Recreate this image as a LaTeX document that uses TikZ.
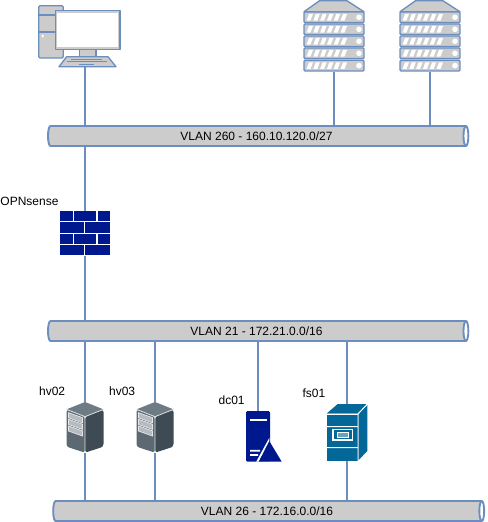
\documentclass[tikz,border=0pt]{standalone}
\usepackage{fontspec}
\setmainfont{Liberation Sans}
\usetikzlibrary{shapes.geometric, positioning}
\definecolor{linkblue}{RGB}{108,142,191}
\definecolor{pipegray}{RGB}{204,204,204}
\definecolor{navyicon}{RGB}{0,24,141}
\definecolor{tealicon}{RGB}{3,104,151}
\definecolor{hvleft}{RGB}{92,105,115}
\definecolor{hvright}{RGB}{62,75,85}
\definecolor{hvtop}{RGB}{110,122,132}
\tikzset{
  pipe/.style={
    cylinder, shape border rotate=0, shape aspect=0.55, draw=linkblue,
    line width=1.4pt, cylinder uses custom fill, cylinder body fill=pipegray,
    cylinder end fill=white, minimum height=315.25pt, minimum width=15pt,
    inner sep=0pt, font=\fontsize{9pt}{10pt}\selectfont
  },
  hold/.style={inner sep=0pt, minimum width=#1},
  link/.style={draw=linkblue, line width=1.4pt},
  lbl/.style={inner sep=0pt, font=\fontsize{9pt}{10pt}\selectfont,
    above left=4.2pt and 0.6pt of #1},
  % icons, drawn around the centre of their holder
  pcicon/.pic={
    \begin{scope}[draw=linkblue, line width=1pt, fill=pipegray, line join=round]
      \filldraw[rounded corners=1pt] (-46.3,-30.5) rectangle (-21.7,21.8);
      \draw (-46.3,-21.2) -- (-21.7,-21.2) (-46.3,-4.2) -- (-21.7,-4.2);
      \fill[white] (-42.3,-0.2) circle (1.4);
      \filldraw (-5.7,13) rectangle (11,21);
      \filldraw (-29.7,-25.5) rectangle (35,13);
      \fill[white] (-27.7,-23.5) rectangle (33,11);
      \filldraw (-18.3,20.5) -- (23,20.5) -- (31,30.5) -- (-26,30.5) -- cycle;
      \draw[line width=0.7pt] (-14,23.2) -- (17,23.2) (-18,25.7) -- (22,25.7)
        (-6,28.2) -- (9,28.2);
    \end{scope}
  },
  rackicon/.pic={
    \filldraw[draw=linkblue, line width=1pt, fill=pipegray, line join=round]
      (-30,-24.5) -- (-14.5,-35.5) -- (13,-35.5) -- (30,-24.5) -- cycle;
    \foreach \u in {-24.3,-12.3,-0.3,11.7,24} {
      \filldraw[draw=linkblue, line width=1pt, fill=pipegray, rounded corners=0.8pt]
        (-30,\u) rectangle (30,\u+10.7);
      \foreach \s in {0,...,5}
        \fill[white] (-25+6.8*\s,\u+2) -- (-21+6.8*\s,\u+2)
          -- (-23.5+6.8*\s,\u+8.7) -- (-27.5+6.8*\s,\u+8.7) -- cycle;
      \fill[white] (25,\u+5.35) circle (2.8);
    }
  },
  wallicon/.pic={
    \foreach \r in {-22,0.2} {
      \fill[navyicon] (-25.2,\r) rectangle (-12.5,\r+10);
      \fill[navyicon] (-11.2,\r) rectangle (11,\r+10);
      \fill[navyicon] (12.5,\r) rectangle (25.2,\r+10);
      \fill[navyicon] (-25.2,\r+11) rectangle (-1.2,\r+21.7);
      \fill[navyicon] (0.2,\r+11) rectangle (25.2,\r+21.7);
    }
  },
  hvicon/.pic={
    \fill[hvtop] (0,-25.35) -- (18.5,-18) -- (0,-10.7) -- (-18.5,-18) -- cycle;
    \fill[hvleft, rounded corners=2pt] (-18.5,-18) -- (0,-10.7) -- (0,25.35) -- (-18.5,19.3) -- cycle;
    \fill[hvright, rounded corners=2pt] (18.5,-18) -- (0,-10.7) -- (0,25.35) -- (18.5,19.3) -- cycle;
    \draw[white!80!hvleft, line width=0.6pt] (-18.5,-18) -- (0,-10.7) -- (18.5,-18) (0,-10.7) -- (0,25.35);
    \foreach \d in {0,1,2}
      \filldraw[draw=white!85!hvleft, fill=white!55!hvleft, line width=0.5pt]
        (-16.5,-14.7+6.6*\d) -- (-2.5,-9.7+6.6*\d) -- (-2.5,-4.5+6.6*\d) -- (-16.5,-9.5+6.6*\d) -- cycle;
  },
  dcicon/.pic={
    \fill[navyicon, rounded corners=1pt] (-12,-25.35) rectangle (12,25.35);
    \fill[white] (-8,-17.2) rectangle (8.5,-15.4);
    \fill[white] (-8,13.5) rectangle (2,15.2) (-8,17.8) rectangle (0,19.5);
    \fill[white] (11.3,1.5) -- (-1.8,25.35) -- (12,25.35) -- cycle;
    \fill[navyicon] (11.3,4.65) -- (0.7,25.35) -- (23.7,25.35) -- cycle;
  },
  fsicon/.pic={
    \fill[tealicon] (-20.35,-18.9) -- (-9.35,-28.5) -- (20.35,-28.5) -- (10.65,-18.9) -- cycle;
    \fill[tealicon] (-20.35,-18.2) rectangle (10.65,28.5);
    \fill[tealicon] (11.35,-18.2) -- (20.35,-27.6) -- (20.35,18.5) -- (11.35,27.8) -- cycle;
    \draw[white, line width=0.7pt] (-20.35,-18.2) -- (10.65,-18.2) -- (20.35,-28.5)
      (-20.35,-5.8) -- (10.65,-5.8) (-20.35,15.2) -- (10.65,15.2) (11,-18.2) -- (11,28.5);
    \filldraw[draw=white, fill=tealicon, line width=1pt] (-14,-3.2) rectangle (5.3,7.5);
    \filldraw[draw=white, fill=tealicon!60!white, line width=0.5pt] (-10,-0.5) rectangle (1.3,4.8);
  }
}
\begin{document}
\begin{tikzpicture}[x=0.75pt, y=-0.75pt, node distance=0pt]
  \useasboundingbox (0,0) rectangle (487,522);

  \node[pipe] (vlan260) at (256.5,136) {VLAN 260 - 160.10.120.0/27};
  \node[pipe] (vlan21)  at (256.5,331) {VLAN 21 - 172.21.0.0/16};
  \node[pipe, minimum height=323.25pt] (vlan26) at (267,511) {VLAN 26 - 172.16.0.0/16};

  \node[hold=52pt,   minimum height=45.75pt] (pc)    at (85,36.2)    {};
  \node[hold=45.3pt, minimum height=53.25pt] (srv1)  at (334,36.25)  {};
  \node[hold=45.3pt, minimum height=53.25pt] (srv2)  at (430,36.25)  {};
  \node[hold=37.8pt, minimum height=33pt]    (fw)    at (85,233.3)   {};
  \node[hold=27.75pt,minimum height=38pt]    (hv02)  at (85,427.35)  {};
  \node[hold=27.75pt,minimum height=38pt]    (hv03)  at (155,427.35) {};
  \node[hold=18pt,   minimum height=38pt]    (dc01)  at (258,436.35) {};
  \node[hold=30.5pt, minimum height=42.75pt] (fs01)  at (347,432.5)  {};

  \pic at (pc)   {pcicon};
  \pic at (srv1) {rackicon};
  \pic at (srv2) {rackicon};
  \pic at (fw)   {wallicon};
  \pic at (hv02) {hvicon};
  \pic at (hv03) {hvicon};
  \pic at (dc01) {dcicon};
  \pic at (fs01) {fsicon};

  \node[lbl=fw.north west]   (lblfw)   {OPNsense};
  \node[lbl=hv02.north west] (lblhv02) {hv02};
  \node[lbl=hv03.north west] (lblhv03) {hv03};
  \node[lbl=dc01.north west] (lbldc01) {dc01};
  \node[lbl=fs01.north west] (lblfs01) {fs01};

  \draw[link] (pc.south)   -- (pc.south |- vlan260.north);
  \draw[link] (srv1.south) -- (srv1.south |- vlan260.north);
  \draw[link] (srv2.south) -- (srv2.south |- vlan260.north);
  \draw[link] (fw.north |- vlan260.south) -- (fw.north);
  \draw[link] (fw.south)   -- (fw.south |- vlan21.north);
  \draw[link] (hv02.north |- vlan21.south) -- (hv02.north);
  \draw[link] (hv03.north |- vlan21.south) -- (hv03.north);
  \draw[link] (dc01.north |- vlan21.south) -- (dc01.north);
  \draw[link] (fs01.north |- vlan21.south) -- (fs01.north);
  \draw[link] (hv02.south) -- (hv02.south |- vlan26.north);
  \draw[link] (hv03.south) -- (hv03.south |- vlan26.north);
  \draw[link] (fs01.south) -- (fs01.south |- vlan26.north);
\end{tikzpicture}
\end{document}
